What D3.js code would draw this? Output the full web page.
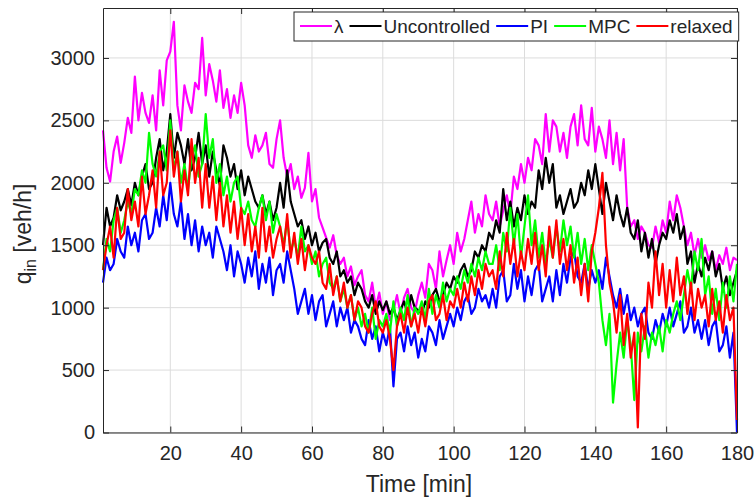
<!DOCTYPE html>
<html>
<head>
<meta charset="utf-8">
<script src="https://cdn.jsdelivr.net/npm/d3@7"></script>
<style>
  body { margin: 0; background: #fff; }
  text { font-family: "Liberation Sans", Arial, sans-serif; fill: #262626; }
</style>
</head>
<body>
<div id="chart"></div>
<script>
// one sample per minute, t = 1..180
var minutes = d3.range(1, 181);

var lambdaVals = [
  2420, 2120, 2010, 2250, 2370, 2160, 2320, 2520, 2400, 2850,
  2500, 2720, 2560, 2480, 2700, 2420, 2900, 2620, 2980, 3050,
  3290, 2620, 2420, 2780, 2650, 2560, 2800, 2750, 3160, 2700,
  2950, 2820, 2650, 2900, 2600, 2750, 2520, 2700, 2560, 2800,
  2620, 2300, 2200, 2380, 2250, 2300, 2400, 2150, 2120, 2350,
  2500, 2200, 2050, 2150, 1950, 2050, 1880, 1960, 2240, 1850,
  1950, 1720, 1640, 1560, 1480, 1580, 1420, 1350, 1400, 1250,
  1330, 1180, 1250, 1300, 1100, 1050, 1200, 1000, 1120, 950,
  1050, 900, 980, 1100, 950, 1080, 1150, 1000, 960, 1100,
  1200, 1080, 1350, 1300, 1150, 1450, 1250, 1380, 1500, 1350,
  1600, 1450, 1550, 1700, 1850, 1600, 1750, 1650, 1900, 1750,
  1700, 1850, 1650, 1780, 1900, 1750, 2050, 1950, 2150, 2000,
  2200, 2100, 2350, 2300, 2150, 2550, 2250, 2500, 2450, 2250,
  2400, 2200, 2450, 2550, 2300, 2620, 2350, 2300, 2600, 2250,
  2450, 2350, 2200, 2500, 2150, 2400, 2100, 2350, 1800, 1650,
  1700, 1550, 1650, 1600, 1500, 1480, 1650, 1520, 1700, 1600,
  1850, 1700, 1900, 1800, 1650, 1500, 1600, 1420, 1550, 1400,
  1500, 1380, 1450, 1300, 1420, 1350, 1480, 1300, 1400, 1380
];

var uncontrolled = [
  1500, 1800, 1650, 1720, 1900, 1780, 1850, 1950, 1820, 2000,
  1900, 2050, 2150, 1950, 2000, 2200, 2350, 2100, 2250, 2550,
  2200, 2400, 2300, 2150, 2350, 2100, 2200, 2400, 2150, 2300,
  2050, 2250, 2100, 1980, 2300, 2200, 2050, 2150, 1950, 2100,
  1900, 2050, 1950, 1850, 1800, 1900, 1750, 1850, 1700, 1800,
  2000, 1800, 2100, 1850, 1750, 1650, 1700, 1550, 1650, 1500,
  1600, 1450, 1520, 1550, 1400, 1350, 1450, 1250, 1300, 1200,
  1250, 1100, 1200, 1150, 1050, 1000, 1100, 950, 1050, 980,
  1050, 950, 1000, 900, 980, 1050, 950, 1100, 1000, 980,
  950, 1050, 1000, 1100, 1150, 1050, 1100, 1200, 1150, 1250,
  1200, 1300, 1350, 1250, 1300, 1450, 1400, 1500, 1450, 1600,
  1550, 1700, 1600, 1950, 1700, 1850, 1650, 1800, 1700, 1900,
  1750, 1850, 1800, 2100, 1950, 2200, 2000, 2150, 1800, 1900,
  1750, 1850, 1950, 1800, 1850, 2000, 1900, 2100, 1950, 2150,
  1950, 1750, 2000, 1850, 1700, 1900, 1750, 1650, 1800, 1600,
  1550, 1700, 1450, 1600, 1400, 1550, 1350, 1500, 1600, 1550,
  1700, 1600, 1750, 1550, 1650, 1350, 1450, 1200, 1350, 1250,
  1400, 1300, 1450, 1250, 1350, 1150, 1250, 1100, 1200, 1300
];

var piVals = [
  1200, 1400, 1300, 1350, 1550, 1450, 1400, 1650, 1500, 1600,
  1450, 1700, 1750, 1550, 1600, 1800, 1650, 1900, 1700, 2000,
  1750, 1650, 1850, 1550, 1750, 1500, 1700, 1450, 1650, 1500,
  1600, 1400, 1650, 1550, 1450, 1300, 1500, 1250, 1450, 1350,
  1200, 1400, 1250, 1450, 1150, 1350, 1200, 1400, 1100, 1300,
  1350, 1200, 1450, 1300, 1150, 950, 1050, 1150, 950, 1100,
  900, 1050, 1100, 850, 950, 1050, 850, 1000, 900, 1000,
  800, 900, 850, 750, 700, 900, 750, 850, 650, 800,
  700, 850, 370, 750, 800, 650, 850, 700, 800, 600,
  750, 650, 850, 800, 700, 900, 750, 850, 950, 850,
  1000, 900, 1050, 1100, 950, 1000, 1150, 1050, 1100, 1000,
  1150, 1000, 1250, 1300, 1050, 1100, 1350, 1150, 1300, 1050,
  1250, 1100, 1300, 1350, 1050, 1150, 1250, 1050, 1300, 1100,
  1350, 1200, 1400, 1450, 1250, 1200, 1350, 1150, 1300, 1200,
  1300, 1150, 1400, 1250, 1100, 1000, 1150, 950, 1100, 900,
  1000, 850, 950, 1000, 800, 750, 900, 800, 950, 850,
  1000, 850, 950, 1050, 800, 850, 1000, 800, 900, 750,
  900, 700, 850, 900, 650, 700, 850, 600, 800, 0
];

var mpcVals = [
  1300, 1550, 1450, 1700, 1800, 1600, 1700, 1850, 1750, 1950,
  1900, 2100, 2000, 2400, 2150, 2050, 2250, 2300, 2100, 2500,
  2100, 2250, 2000, 2150, 1950, 2200, 2300, 2050, 2150, 2550,
  2200, 2350, 2000, 2150, 1900, 2050, 1850, 2000, 2050, 1800,
  1750, 1850, 1700, 1650, 1800, 1900, 1700, 1850, 1600, 1750,
  1650, 1500, 1700, 1450, 1550, 1400, 1650, 1450, 1500, 1350,
  1450, 1250, 1350, 1400, 1200, 1150, 1250, 1050, 1150, 1000,
  1100, 900, 1000, 850, 950, 800, 1000, 750, 900, 850,
  950, 800, 1050, 850, 1000, 900, 1100, 850, 1000, 950,
  1050, 900, 1150, 950, 1100, 1000, 1200, 1050, 1150, 1100,
  1250, 1150, 1300, 1200, 1350, 1250, 1400, 1300, 1450, 1350,
  1350, 1500, 1300, 1600, 1450, 1800, 1500, 1750, 1400, 1650,
  1900, 1500, 1700, 1400, 1600, 1350, 1550, 1400, 1650, 1450,
  1700, 1500, 1650, 1400, 1600, 1350, 1550, 1300, 1500, 1350,
  1200, 900, 700, 950, 240, 550, 800, 600, 900, 700,
  260, 800, 650, 850, 600, 800, 700, 850, 650, 900,
  800, 950, 1050, 900, 1100, 1300, 1150, 1450, 1300, 1550,
  1100, 1250, 950, 1150, 900, 1200, 1000, 1250, 1050, 1350
];

var relaxedVals = [
  1300, 1500, 1650, 1400, 1800, 1550, 1600, 1950, 1700, 1850,
  1650, 2050, 1750, 1900, 2100, 1800, 2250, 1900, 2000, 2420,
  2050, 2250, 1850, 2100, 1900, 2350, 2000, 2200, 1800, 2150,
  1800, 2050, 1700, 2000, 1650, 1900, 1600, 1850, 1550, 1800,
  1500, 1750, 1450, 1650, 1400, 1800, 1450, 1650, 1400, 1550,
  1650, 1450, 1750, 1400, 1600, 1350, 1550, 1300, 1500, 1400,
  1350, 1450, 1200, 1150, 1350, 1100, 1250, 1050, 1200, 1000,
  1100, 900, 1050, 1000, 850, 800, 950, 1050, 850, 800,
  900, 750, 500, 850, 950, 800, 1000, 850, 950, 800,
  1000, 850, 1050, 1100, 900, 950, 1100, 900, 1050, 1000,
  1150, 1000, 1200, 1050, 1250, 1100, 1300, 1150, 1350, 1250,
  1300, 1150, 1450, 1250, 1600, 1350, 1550, 1250, 1450, 1300,
  1550, 1350, 1600, 1300, 1500, 1250, 1650, 1400, 1700, 1350,
  1550, 1300, 1500, 1200, 1400, 1100, 1350, 1050, 1450, 1600,
  1800, 2080, 1500, 1200, 1050, 800, 1100, 700, 950, 600,
  800, 40, 950, 750, 1200, 1000, 1450, 1100, 1350, 1000,
  1300, 1050, 1400, 1100, 1250, 950, 1200, 900, 1150, 1000,
  1100, 850, 1150, 900, 1050, 800, 1100, 900, 1000, 100
];

var seriesNames = ["\u03bb", "Uncontrolled", "PI", "MPC", "relaxed"];
var seriesColors = ["#ff00ff", "#000000", "#0000ff", "#00ff00", "#ff0000"];
var seriesData = [lambdaVals, uncontrolled, piVals, mpcVals, relaxedVals];

var xTicks = [20, 40, 60, 80, 100, 120, 140, 160, 180];
var yTicks = [0, 500, 1000, 1500, 2000, 2500, 3000];

(function() {
  var width = 756, height = 501;
  var left = 103, right = 737, plotTop = 8, bottom = 432.5;

  var svg = d3.select("#chart")
    .append("svg")
    .attr("width", width)
    .attr("height", height);

  var x = d3.scaleLinear().domain([1, 180]).range([left, right]);
  var y = d3.scaleLinear().domain([0, 3400]).range([bottom, plotTop]);

  // grid
  svg.append("g")
    .selectAll("line")
    .data(xTicks)
    .enter().append("line")
    .attr("x1", function(d) { return x(d); })
    .attr("x2", function(d) { return x(d); })
    .attr("y1", plotTop).attr("y2", bottom)
    .attr("stroke", "#dcdcdc").attr("stroke-width", 1);

  svg.append("g")
    .selectAll("line")
    .data(yTicks)
    .enter().append("line")
    .attr("y1", function(d) { return y(d); })
    .attr("y2", function(d) { return y(d); })
    .attr("x1", left).attr("x2", right)
    .attr("stroke", "#dcdcdc").attr("stroke-width", 1);

  // series lines, first one drawn underneath
  var line = d3.line()
    .x(function(d, i) { return x(minutes[i]); })
    .y(function(d) { return y(d); });

  svg.append("g")
    .selectAll("path")
    .data(seriesData)
    .enter().append("path")
    .attr("d", line)
    .attr("fill", "none")
    .attr("stroke", function(d, i) { return seriesColors[i]; })
    .attr("stroke-width", 2.2)
    .attr("stroke-linejoin", "round");

  // axes, ticks pointing inwards like matlab
  svg.append("g")
    .attr("transform", "translate(0," + bottom + ")")
    .call(d3.axisBottom(x).tickValues(xTicks).tickSizeInner(-6).tickSizeOuter(0).tickPadding(13));
  svg.append("g")
    .attr("transform", "translate(" + left + ",0)")
    .call(d3.axisLeft(y).tickValues(yTicks).tickSizeInner(-6).tickSizeOuter(0).tickPadding(8)
      .tickFormat(d3.format("d")));
  svg.append("g")
    .attr("transform", "translate(0," + plotTop + ")")
    .call(d3.axisTop(x).tickValues(xTicks).tickSizeInner(-6).tickSizeOuter(0).tickFormat(""));
  svg.append("g")
    .attr("transform", "translate(" + right + ",0)")
    .call(d3.axisRight(y).tickValues(yTicks).tickSizeInner(-6).tickSizeOuter(0).tickFormat(""));

  svg.selectAll(".domain, .tick line").attr("stroke", "#262626");
  svg.selectAll(".tick text")
    .attr("font-family", "Liberation Sans, Arial, sans-serif")
    .attr("font-size", 20)
    .attr("fill", "#262626");

  // axis labels
  svg.append("text")
    .attr("x", 419).attr("y", 492)
    .attr("text-anchor", "middle")
    .attr("font-size", 23)
    .text("Time [min]");

  var ylab = svg.append("text")
    .attr("transform", "translate(31,234) rotate(-90)")
    .attr("text-anchor", "middle")
    .attr("font-size", 23);
  ylab.append("tspan").text("q");
  ylab.append("tspan").attr("font-size", 16).attr("dy", 5).text("in");
  ylab.append("tspan").attr("dy", -5).text(" [veh/h]");

  // legend
  var legend = svg.append("g");
  var legBox = legend.append("rect")
    .attr("fill", "#fff").attr("stroke", "#262626").attr("stroke-width", 1);
  var lx = 300;
  seriesNames.forEach(function(name, i) {
    legend.append("line")
      .attr("x1", lx).attr("x2", lx + 32)
      .attr("y1", 26).attr("y2", 26)
      .attr("stroke", seriesColors[i]).attr("stroke-width", 2);
    var t = legend.append("text")
      .attr("x", lx + 34).attr("y", 33)
      .attr("font-size", 19)
      .text(name);
    lx += 34 + t.node().getComputedTextLength() + 6;
  });
  legBox.attr("x", 294).attr("y", 12).attr("width", lx - 294).attr("height", 29);
})();
</script>
</body>
</html>
